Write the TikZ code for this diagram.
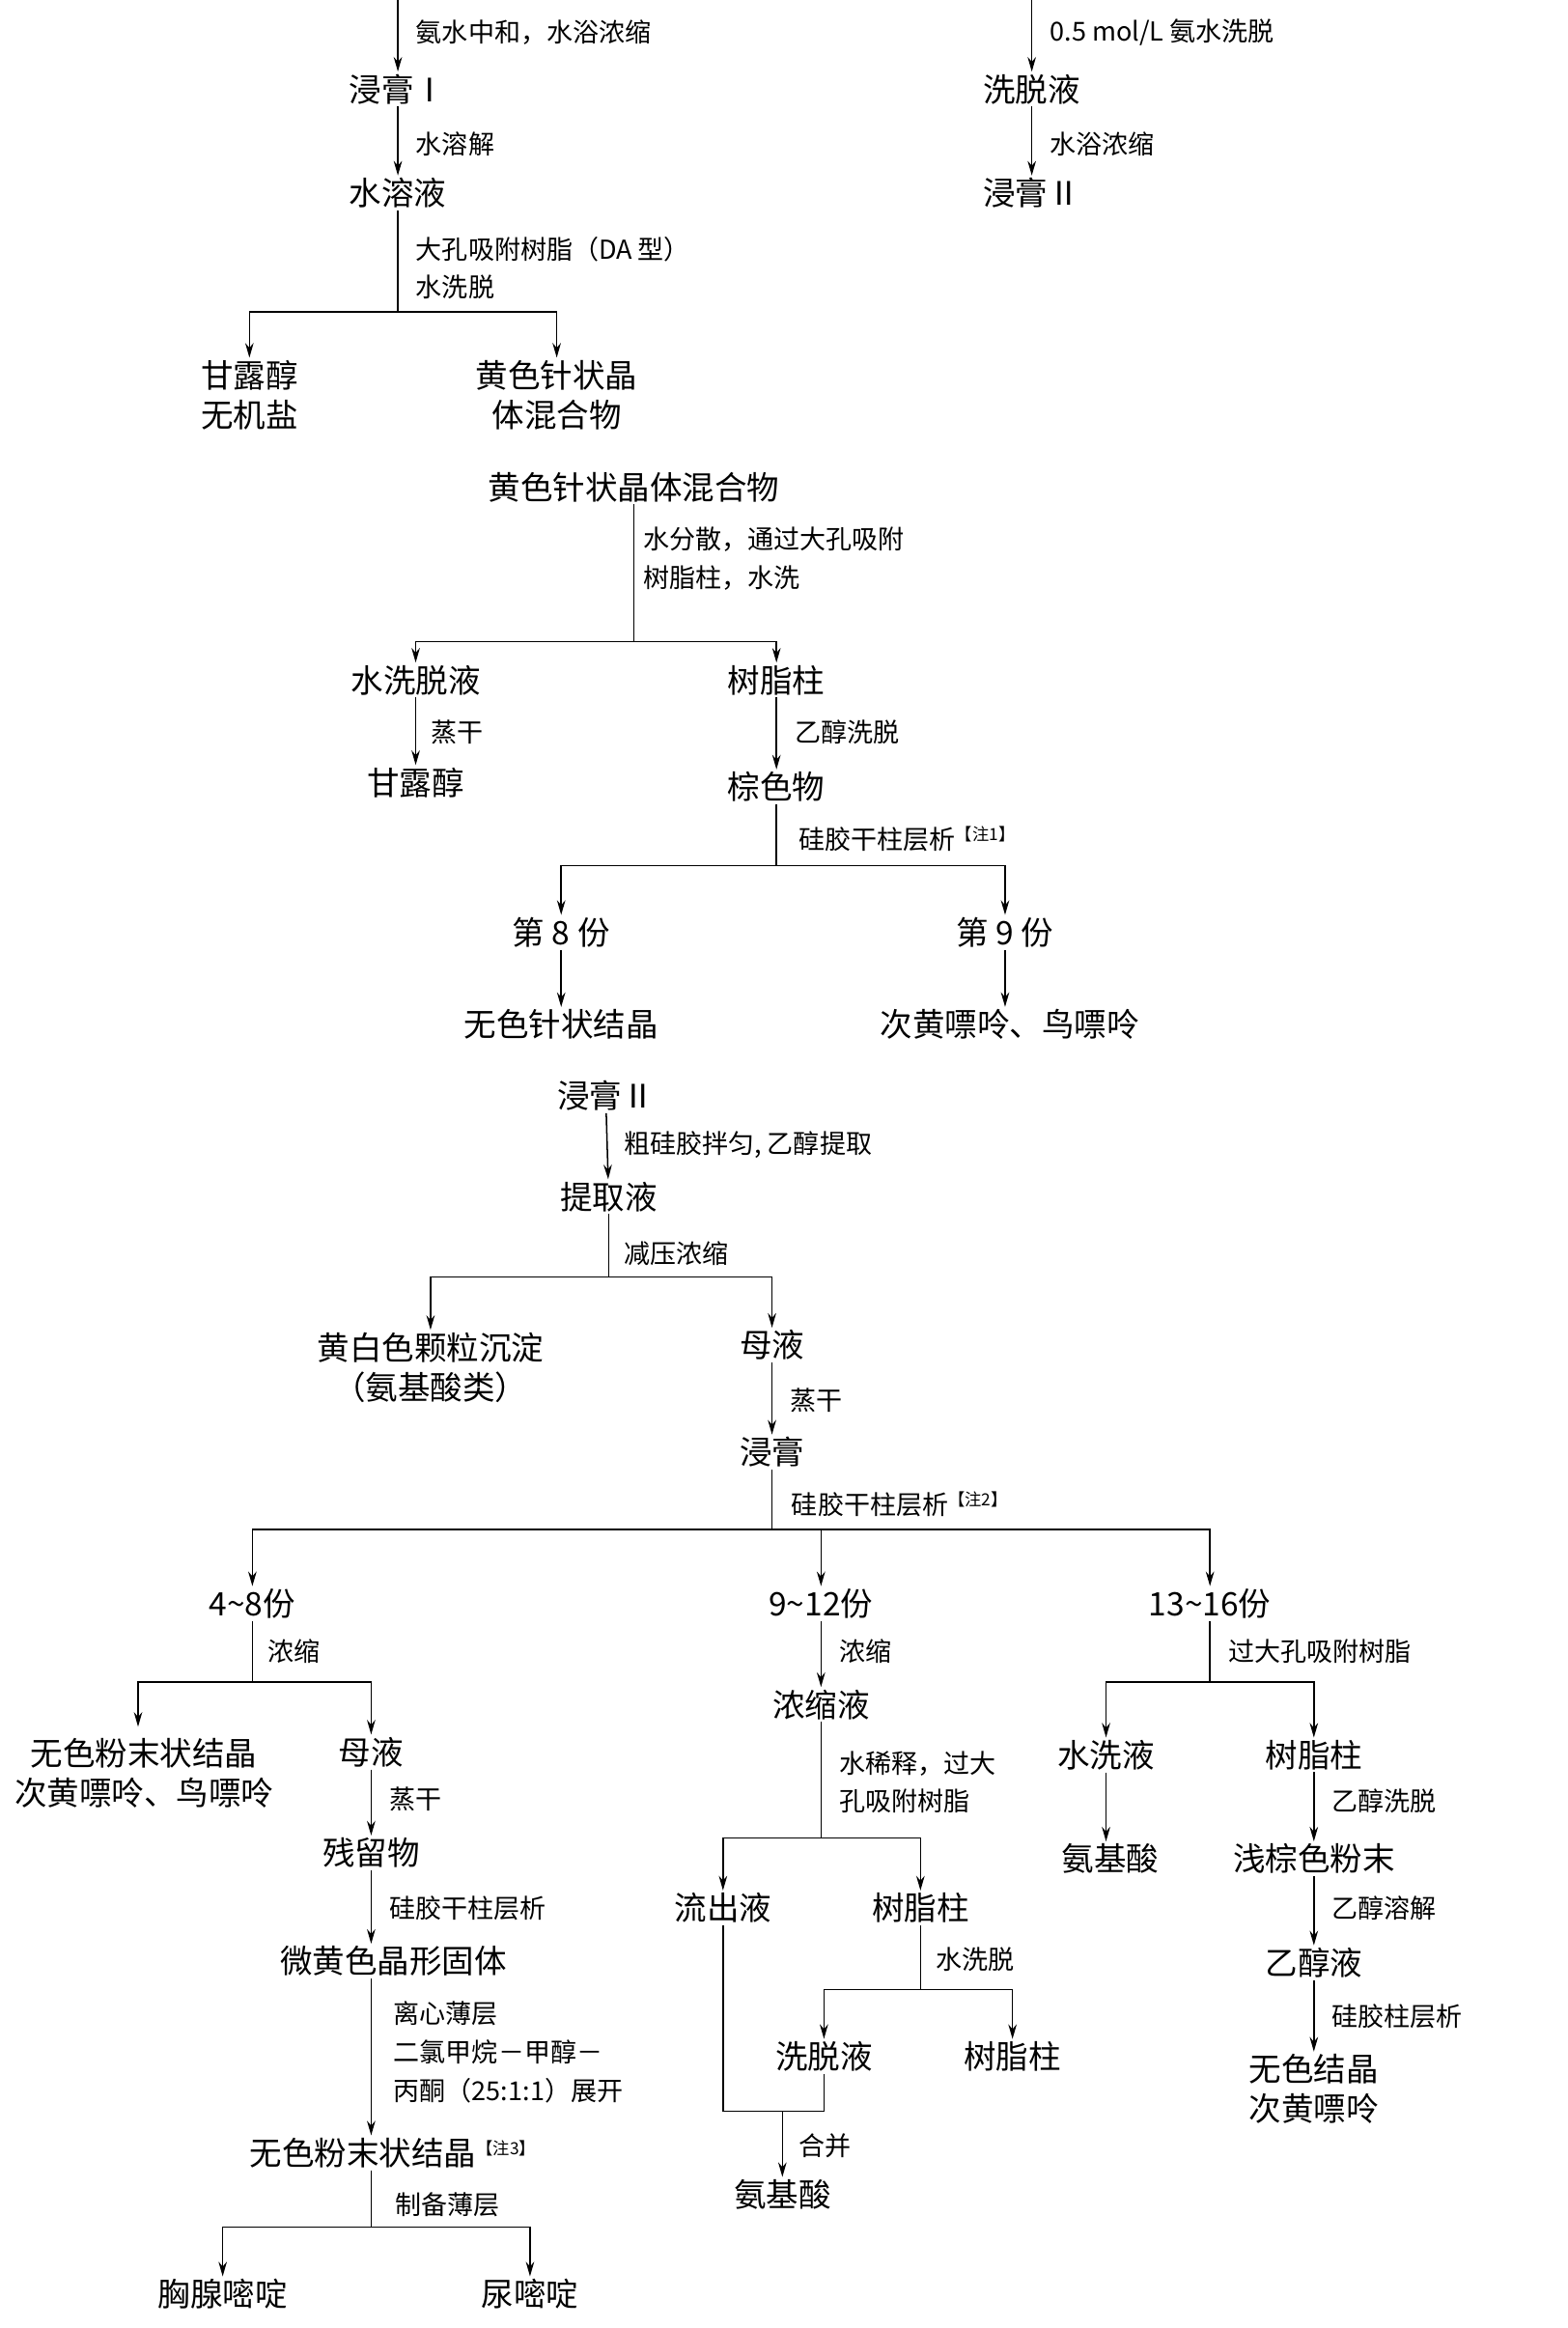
\documentclass[tikz,border=0pt]{standalone}
\usepackage{fontspec}
\setmainfont{Noto Sans CJK SC}
\usetikzlibrary{arrows.meta}
\tikzset{
  txt/.style={inner sep=1pt, font=\fontsize{15.5}{19}\selectfont, align=center},
  lab/.style={anchor=west, inner sep=0pt, font=\fontsize{12.5}{15}\selectfont},
  ln/.style={line width=0.7pt},
  ar/.style={ln, -{Stealth[length=7pt,width=4pt]}}
}
\newcommand{\zhu}[1]{\textsuperscript{\fontsize{8}{8}\selectfont【注#1】}}
\begin{document}
\begin{tikzpicture}[x=0.025cm, y=-0.025cm]
\useasboundingbox (0,0) rectangle (1056,1568);
% upper left
\coordinate (t0) at (268,0);
\node[txt] (jg1) at (268,60) {浸膏Ⅰ};
\node[txt] (sry) at (268,130) {水溶液};
\node[txt] (gl1) at (168,266) {甘露醇\\无机盐};
\node[txt] (hs1) at (375,266) {黄色针状晶\\体混合物};
\coordinate (b1) at (268,210);
\draw[ar] (t0) -- (jg1);
\draw[ar] (jg1) -- (sry);
\draw[ln] (sry) -- (b1);
\draw[ar] (b1) -| (gl1);
\draw[ar] (b1) -| (hs1);
\node[lab] at (280,22) {氨水中和，水浴浓缩};
\node[lab] at (280,97) {水溶解};
\node[lab] at (280,168) {大孔吸附树脂（DA 型）};
\node[lab] at (280,193) {水洗脱};
% upper right
\coordinate (t1) at (695,0);
\node[txt] (xty) at (695,60) {洗脱液};
\node[txt] (jg2) at (695,130) {浸膏Ⅱ};
\draw[ar] (t1) -- (xty);
\draw[ar] (xty) -- (jg2);
\node[lab] at (707,22) {0.5 mol/L 氨水洗脱};
\node[lab] at (707,97) {水浴浓缩};
% yellow crystal mixture
\node[txt] (hs2) at (427,328) {黄色针状晶体混合物};
\node[txt] (sxt) at (280,458) {水洗脱液};
\node[txt] (szz1) at (523,458) {树脂柱};
\node[txt] (gl2) at (280,527) {甘露醇};
\node[txt] (zsw) at (523,530) {棕色物};
\node[txt] (d8) at (378,628) {第 8 份};
\node[txt] (d9) at (677,628) {第 9 份};
\node[txt] (wsz) at (378,690) {无色针状结晶};
\node[txt] (chp1) at (680,690) {次黄嘌呤、鸟嘌呤};
\coordinate (b2) at (427,432);
\coordinate (b3) at (523,583);
\draw[ln] (hs2) -- (b2);
\draw[ar] (b2) -| (sxt);
\draw[ar] (b2) -| (szz1);
\draw[ar] (sxt) -- (gl2);
\draw[ar] (szz1) -- (zsw);
\draw[ln] (zsw) -- (b3);
\draw[ar] (b3) -| (d8);
\draw[ar] (b3) -| (d9);
\draw[ar] (d8) -- (wsz);
\draw[ar] (d9.south) -- (d9.south |- chp1.north);
\node[lab] at (433,363) {水分散，通过大孔吸附};
\node[lab] at (433,389) {树脂柱，水洗};
\node[lab] at (290,493) {蒸干};
\node[lab] at (535,493) {乙醇洗脱};
\node[lab] at (538,565) {硅胶干柱层析\zhu{1}};
% extract II
\node[txt] (jg3) at (408,738) {浸膏Ⅱ};
\node[txt] (tqy) at (410,806) {提取液};
\node[txt] (hbs) at (290,921) {黄白色颗粒沉淀\\（氨基酸类）};
\node[txt] (my1) at (520,906) {母液};
\node[txt] (jg4) at (520,978) {浸膏};
\coordinate (b4) at (410,860);
\coordinate (b5) at (520,1030);
\draw[ar] (jg3) -- (tqy);
\draw[ln] (tqy) -- (b4);
\draw[ar] (b4) -| (hbs);
\draw[ar] (b4) -| (my1);
\draw[ar] (my1) -- (jg4);
\draw[ln] (jg4) -- (b5);
\node[lab] at (420,771) {粗硅胶拌匀, 乙醇提取};
\node[lab] at (420,844) {减压浓缩};
\node[lab] at (532,943) {蒸干};
\node[lab] at (533,1013) {硅胶干柱层析\zhu{2}};
% fractions
\node[txt] (f48) at (170,1080) {4\~{}8份};
\node[txt] (f912) at (553,1080) {9\~{}12份};
\node[txt] (f1316) at (815,1080) {13\~{}16份};
\draw[ar] (b5) -| (f48);
\draw[ar] (b5) -| (f912);
\draw[ar] (b5) -| (f1316);
% left branch
\node[txt] (wsf1) at (97,1194) {无色粉末状结晶\\次黄嘌呤、鸟嘌呤};
\node[txt] (my2) at (250,1180) {母液};
\node[txt] (clw) at (250,1248) {残留物};
\node[txt] (whs) at (265,1321) {微黄色晶形固体};
\node[txt] (wsf2) at (265,1450) {无色粉末状结晶\zhu{3}};
\node[txt] (xxm) at (150,1545) {胸腺嘧啶};
\node[txt] (nmd) at (357,1545) {尿嘧啶};
\coordinate (b6) at (170,1133);
\coordinate (b7) at (250,1500);
\draw[ln] (f48) -- (b6);
\draw[ar] (b6) -| (93,1163);
\draw[ar] (b6) -| (my2);
\draw[ar] (my2) -- (clw);
\draw[ar] (clw.south) -- (clw.south |- whs.north);
\draw[ar] (clw.south |- whs.south) -- (clw.south |- wsf2.north);
\draw[ln] (clw.south |- wsf2.south) -- (b7);
\draw[ar] (b7) -| (xxm);
\draw[ar] (b7) -| (nmd);
\node[lab] at (180,1112) {浓缩};
\node[lab] at (262,1212) {蒸干};
\node[lab] at (262,1285) {硅胶干柱层析};
\node[lab] at (265,1356) {离心薄层};
\node[lab] at (265,1382) {二氯甲烷－甲醇－};
\node[lab] at (265,1408) {丙酮（25:1:1）展开};
\node[lab] at (266,1485) {制备薄层};
% middle branch
\node[txt] (nsy) at (553,1148) {浓缩液};
\node[txt] (lcy) at (487,1285) {流出液};
\node[txt] (szz2) at (620,1285) {树脂柱};
\node[txt] (xty2) at (555,1385) {洗脱液};
\node[txt] (szz3) at (682,1385) {树脂柱};
\node[txt] (ajs1) at (527,1478) {氨基酸};
\coordinate (b8) at (553,1238);
\coordinate (b9) at (620,1340);
\coordinate (b10) at (487,1422);
\coordinate (b11) at (527,1422);
\draw[ar] (f912) -- (nsy);
\draw[ln] (nsy) -- (b8);
\draw[ar] (b8) -| (lcy);
\draw[ar] (b8) -| (szz2);
\draw[ln] (szz2) -- (b9);
\draw[ar] (b9) -| (xty2);
\draw[ar] (b9) -| (szz3);
\draw[ln] (lcy) -- (b10) -- (xty2.south |- b10) -- (xty2);
\draw[ar] (b11) -- (ajs1);
\node[lab] at (565,1112) {浓缩};
\node[lab] at (565,1188) {水稀释，过大};
\node[lab] at (565,1213) {孔吸附树脂};
\node[lab] at (630,1320) {水洗脱};
\node[lab] at (538,1445) {合并};
% right branch
\node[txt] (sxy) at (745,1182) {水洗液};
\node[txt] (szz4) at (885,1182) {树脂柱};
\node[txt] (ajs2) at (748,1252) {氨基酸};
\node[txt] (qzs) at (885,1252) {浅棕色粉末};
\node[txt] (ycy) at (885,1322) {乙醇液};
\node[txt] (wsj) at (885,1407) {无色结晶\\次黄嘌呤};
\coordinate (b12) at (815,1133);
\draw[ln] (f1316) -- (b12);
\draw[ar] (b12) -| (sxy);
\draw[ar] (b12) -| (szz4);
\draw[ar] (sxy.south) -- (sxy.south |- ajs2.north);
\draw[ar] (szz4) -- (qzs);
\draw[ar] (qzs) -- (ycy);
\draw[ar] (ycy) -- (wsj);
\node[lab] at (827,1112) {过大孔吸附树脂};
\node[lab] at (897,1213) {乙醇洗脱};
\node[lab] at (897,1285) {乙醇溶解};
\node[lab] at (897,1358) {硅胶柱层析};
\end{tikzpicture}
\end{document}
